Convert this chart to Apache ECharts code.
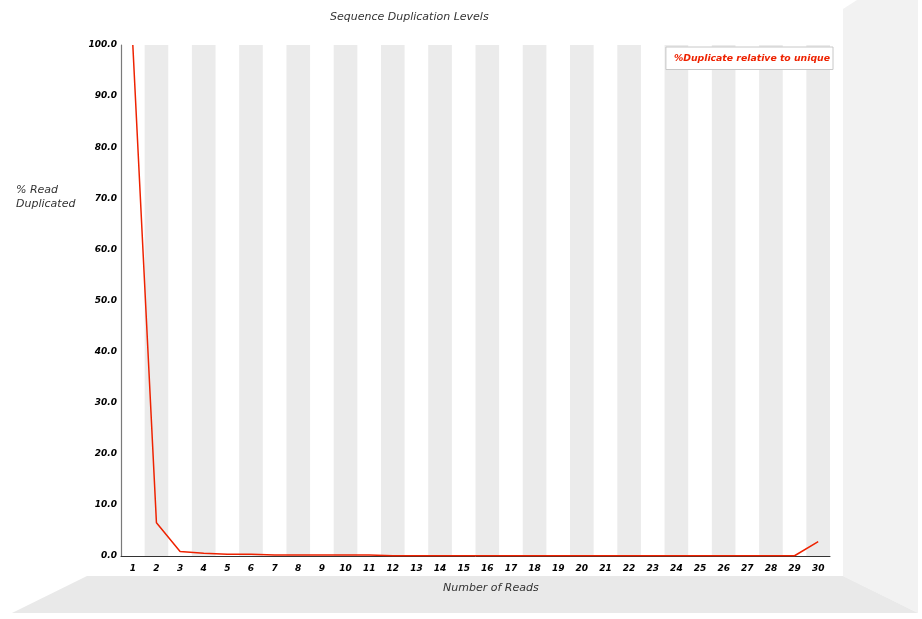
<!DOCTYPE html>
<html>
<head>
<meta charset="utf-8">
<script src="https://cdn.jsdelivr.net/npm/echarts@6/dist/echarts.min.js"></script>
<style>html,body{margin:0;padding:0;background:#fff;}#chart{width:922px;height:619px;}</style>
</head>
<body>
<div id="chart"></div>
<script>
const categories = ['1','2','3','4','5','6','7','8','9','10','11','12','13','14','15','16','17','18','19','20','21','22','23','24','25','26','27','28','29','30'];
const dupRelUnique = [100.0, 6.5, 0.9, 0.55, 0.35, 0.35, 0.2, 0.2, 0.2, 0.2, 0.2, 0.05, 0.05, 0.05, 0.05, 0.05, 0.05, 0.05, 0.05, 0.05, 0.05, 0.05, 0.05, 0.05, 0.05, 0.05, 0.05, 0.05, 0.05, 2.8];
const seriesName = '%Duplicate relative to unique';
const yTickInterval = 10;

const chart = echarts.init(document.getElementById('chart'), null, {renderer: 'canvas'});
const FONT = 'DejaVu Sans';
chart.setOption({
  animation: false,
  backgroundColor: '#ffffff',
  title: {
    text: 'Sequence Duplication Levels',
    left: 330, top: 12,
    padding: 0,
    textStyle: {fontFamily: FONT, fontSize: 11, fontWeight: 'normal', fontStyle: 'italic', color: '#333333'}
  },
  graphic: [
    {type: 'polygon', silent: true, z: -10,
     shape: {points: [[843,576],[843,9],[857,0],[918,0],[918,613]]},
     style: {fill: '#f2f2f2'}},
    {type: 'polygon', silent: true, z: -10,
     shape: {points: [[87,576],[843,576],[918,613],[12,613]]},
     style: {fill: '#e9e9e9'}},
    {type: 'text', left: 16, top: 183, silent: true,
     style: {text: '% Read\nDuplicated', fontFamily: FONT, fontSize: 11, fontStyle: 'italic', fill: '#333333', lineHeight: 14}},
    {type: 'text', left: 443, top: 583, silent: true,
     style: {text: 'Number of Reads', fontFamily: FONT, fontSize: 11, fontStyle: 'italic', fill: '#333333', textAlign: 'center'}}
  ],
  legend: {
    data: [{name: seriesName, icon: 'none'}],
    right: 89, top: 47,
    itemWidth: 0, itemGap: 0,
    padding: [5, 3, 6, 3],
    backgroundColor: '#ffffff', borderColor: '#c8c8c8', borderWidth: 1,
    textStyle: {fontFamily: FONT, fontSize: 9.3, fontWeight: 'bold', fontStyle: 'italic', color: '#ee2200', padding: [0,0,0,0]}
  },
  grid: {left: 121, top: 45, width: 709, height: 511, containLabel: false},
  xAxis: {
    type: 'category', data: categories, boundaryGap: true,
    axisLine: {lineStyle: {color: '#333333', width: 1}},
    axisTick: {show: false},
    axisLabel: {fontFamily: FONT, fontSize: 9, fontWeight: 'bold', fontStyle: 'italic', color: '#000000', margin: 8, interval: 0},
    splitLine: {show: false},
    splitArea: {show: true, interval: 0, areaStyle: {color: ['rgba(255,255,255,0)', '#ebebeb']}}
  },
  yAxis: {
    type: 'value', min: 0, max: 100, interval: yTickInterval,
    axisLine: {show: true, lineStyle: {color: '#7a7a7a', width: 1.2}},
    axisTick: {show: false},
    axisLabel: {fontFamily: FONT, fontSize: 9, fontWeight: 'bold', fontStyle: 'italic', color: '#000000', margin: 4,
      formatter: v => v.toFixed(1)},
    splitLine: {show: false}
  },
  series: [{
    name: seriesName, type: 'line', data: dupRelUnique,
    symbol: 'none', smooth: false,
    lineStyle: {color: '#ee2200', width: 1.5},
    itemStyle: {color: '#ee2200'}
  }]
});
</script>
</body>
</html>
